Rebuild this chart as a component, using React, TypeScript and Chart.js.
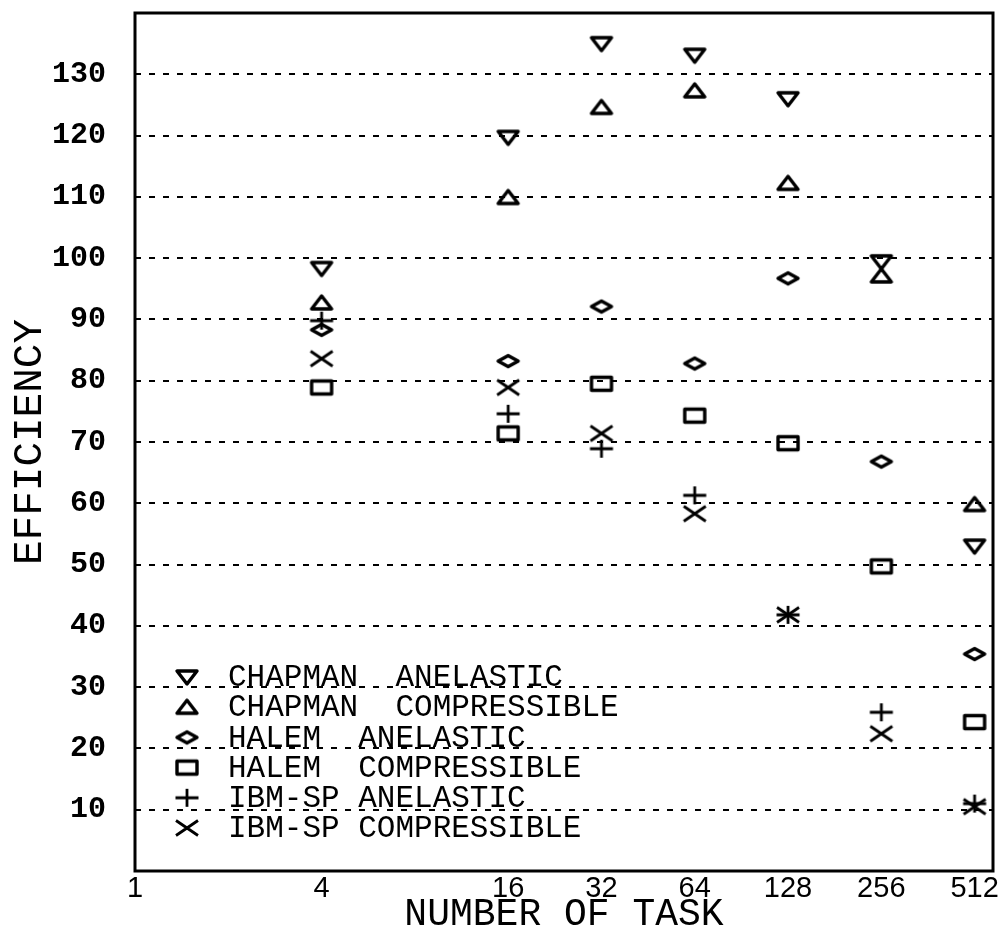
import React, { useEffect, useRef } from "react";
import { Chart, registerables } from "chart.js";

Chart.register(...registerables);

// ---- data ----
const tasks = [4, 16, 32, 64, 128, 256, 512];
const xTickValues = [1, 4, 16, 32, 64, 128, 256, 512];
const yTickValues = [10, 20, 30, 40, 50, 60, 70, 80, 90, 100, 110, 120, 130];

const chapmanAnelastic = [98.3, 119.7, 135, 133.1, 126, 99.4, 53];
const chapmanCompressible = [92.7, 109.9, 124.6, 127.3, 112.2, 97.1, 59.8];
const halemAnelastic = [88.3, 83.2, 92.1, 82.8, 96.7, 66.8, 35.4];
const halemCompressible = [78.9, 71.4, 79.5, 74.3, 69.8, 49.7, 24.3];
const ibmAnelastic = [89.8, 74.6, 68.9, 61.3, 41.8, 25.9, 11];
const ibmCompressible = [83.6, 78.9, 71.4, 58.3, 41.8, 22.4, 10.5];

const seriesLabels = [
  "CHAPMAN  ANELASTIC",
  "CHAPMAN  COMPRESSIBLE",
  "HALEM  ANELASTIC",
  "HALEM  COMPRESSIBLE",
  "IBM-SP ANELASTIC",
  "IBM-SP COMPRESSIBLE",
];
const seriesValues = [
  chapmanAnelastic,
  chapmanCompressible,
  halemAnelastic,
  halemCompressible,
  ibmAnelastic,
  ibmCompressible,
];
const seriesMarkers = ["down", "up", "diamond", "square", "plus", "cross"];

const xTitle = "NUMBER OF TASK";
const yTitle = "EFFICIENCY";

// ---- marker images ----
function makeMarker(kind: string): HTMLCanvasElement {
  const c = document.createElement("canvas");
  c.width = 30;
  c.height = 26;
  const ctx = c.getContext("2d")!;
  ctx.translate(15, 13);
  ctx.strokeStyle = "#000";
  ctx.lineJoin = "round";
  ctx.lineCap = "butt";
  ctx.lineWidth = 3.4;
  ctx.beginPath();
  switch (kind) {
    case "down":
      ctx.moveTo(-10, -6);
      ctx.lineTo(10, -6);
      ctx.lineTo(0, 7);
      ctx.closePath();
      break;
    case "up":
      ctx.moveTo(0, -7);
      ctx.lineTo(10, 6);
      ctx.lineTo(-10, 6);
      ctx.closePath();
      break;
    case "diamond":
      ctx.moveTo(-10, 0);
      ctx.lineTo(0, -5.5);
      ctx.lineTo(10, 0);
      ctx.lineTo(0, 5.5);
      ctx.closePath();
      break;
    case "square":
      ctx.rect(-10, -6.5, 20, 13);
      break;
    case "plus":
      ctx.lineWidth = 2.8;
      ctx.moveTo(-11.5, 0);
      ctx.lineTo(11.5, 0);
      ctx.moveTo(0, -9);
      ctx.lineTo(0, 9);
      break;
    case "cross":
      ctx.lineWidth = 2.8;
      ctx.moveTo(-11, -7.5);
      ctx.lineTo(11, 7.5);
      ctx.moveTo(-11, 7.5);
      ctx.lineTo(11, -7.5);
      break;
  }
  ctx.stroke();
  return c;
}

const framePlugin = {
  id: "frame",
  afterDraw(chart: any) {
    const { ctx, chartArea } = chart;
    const { left, top, right, bottom } = chartArea;
    ctx.save();
    ctx.strokeStyle = "#000";
    ctx.lineWidth = 3;
    ctx.strokeRect(left, top, right - left, bottom - top);
    ctx.restore();
  },
};

const insideLegendPlugin = {
  id: "insideLegend",
  afterDatasetsDraw(chart: any) {
    const { ctx, chartArea } = chart;
    const markerX = chartArea.left + 52;
    const textX = chartArea.left + 93;
    const firstY = chartArea.top + 664;
    const step = 30.2;
    ctx.save();
    ctx.fillStyle = "#000";
    ctx.font = "31px 'Liberation Mono'";
    ctx.textAlign = "left";
    ctx.textBaseline = "middle";
    chart.data.datasets.forEach((ds: any, i: number) => {
      const y = firstY + step * i;
      const img = ds.pointStyle as HTMLCanvasElement;
      ctx.drawImage(img, markerX - img.width / 2, y - img.height / 2);
      ctx.fillText(ds.label, textX, y + 1);
    });
    ctx.restore();
  },
};

export default function App() {
  const canvasRef = useRef<HTMLCanvasElement | null>(null);

  useEffect(() => {
    const canvas = canvasRef.current;
    if (!canvas) return;

    const datasets = seriesLabels.map((label, i) => ({
      type: "scatter" as const,
      label,
      data: tasks.map((t, j) => ({ x: t, y: seriesValues[i][j] })),
      pointStyle: makeMarker(seriesMarkers[i]),
      pointRadius: 10,
      showLine: false,
    }));

    const chart = new Chart(canvas, {
      type: "scatter",
      data: { datasets },
      options: {
        animation: false,
        responsive: false,
        maintainAspectRatio: false,
        devicePixelRatio: 1,
        layout: { padding: { top: 13, right: 12, left: 0, bottom: 0 } },
        plugins: {
          legend: { display: false },
          tooltip: { enabled: false },
        },
        scales: {
          x: {
            type: "logarithmic",
            min: 1,
            max: 587,
            afterBuildTicks: (s: any) => {
              s.ticks = xTickValues.map((v) => ({ value: v }));
            },
            afterFit: (s: any) => {
              s.height = 67;
              s.paddingLeft = 0;
              s.paddingRight = 0;
              s.paddingTop = 0;
              s.paddingBottom = 0;
            },
            grid: { display: false, drawTicks: false },
            border: { display: false },
            ticks: {
              autoSkip: false,
              maxRotation: 0,
              minRotation: 0,
              color: "#000",
              padding: 1,
              font: { family: "'Liberation Sans'", size: 29 },
              callback: (v: any) => String(v),
            },
            title: {
              display: true,
              text: xTitle,
              color: "#000",
              font: { family: "'Liberation Mono'", size: 38 },
              padding: { top: 0, bottom: 0 },
            },
          },
          y: {
            type: "linear",
            min: 0,
            max: 140,
            afterBuildTicks: (s: any) => {
              s.ticks = yTickValues.map((v) => ({ value: v }));
            },
            afterFit: (s: any) => {
              s.width = 135;
              s.paddingLeft = 0;
              s.paddingRight = 0;
              s.paddingTop = 0;
              s.paddingBottom = 0;
            },
            grid: { color: "#000", lineWidth: 2, drawTicks: false },
            border: { display: false, dash: [6, 8] },
            ticks: {
              autoSkip: false,
              color: "#000",
              padding: 29,
              font: { family: "'Liberation Mono'", size: 30, weight: "bold" },
              callback: (v: any) => String(v),
            },
            title: {
              display: true,
              text: yTitle,
              color: "#000",
              font: { family: "'Liberation Mono'", size: 41 },
              padding: { top: 6, bottom: 0 },
            },
          },
        },
      } as any,
      plugins: [framePlugin, insideLegendPlugin],
    });

    return () => chart.destroy();
  }, []);

  return (
    <div style={{ position: "absolute", left: 0, top: 0, width: 1005, height: 938, background: "#fff" }}>
      <canvas ref={canvasRef} width={1005} height={938} style={{ display: "block" }} />
    </div>
  );
}
